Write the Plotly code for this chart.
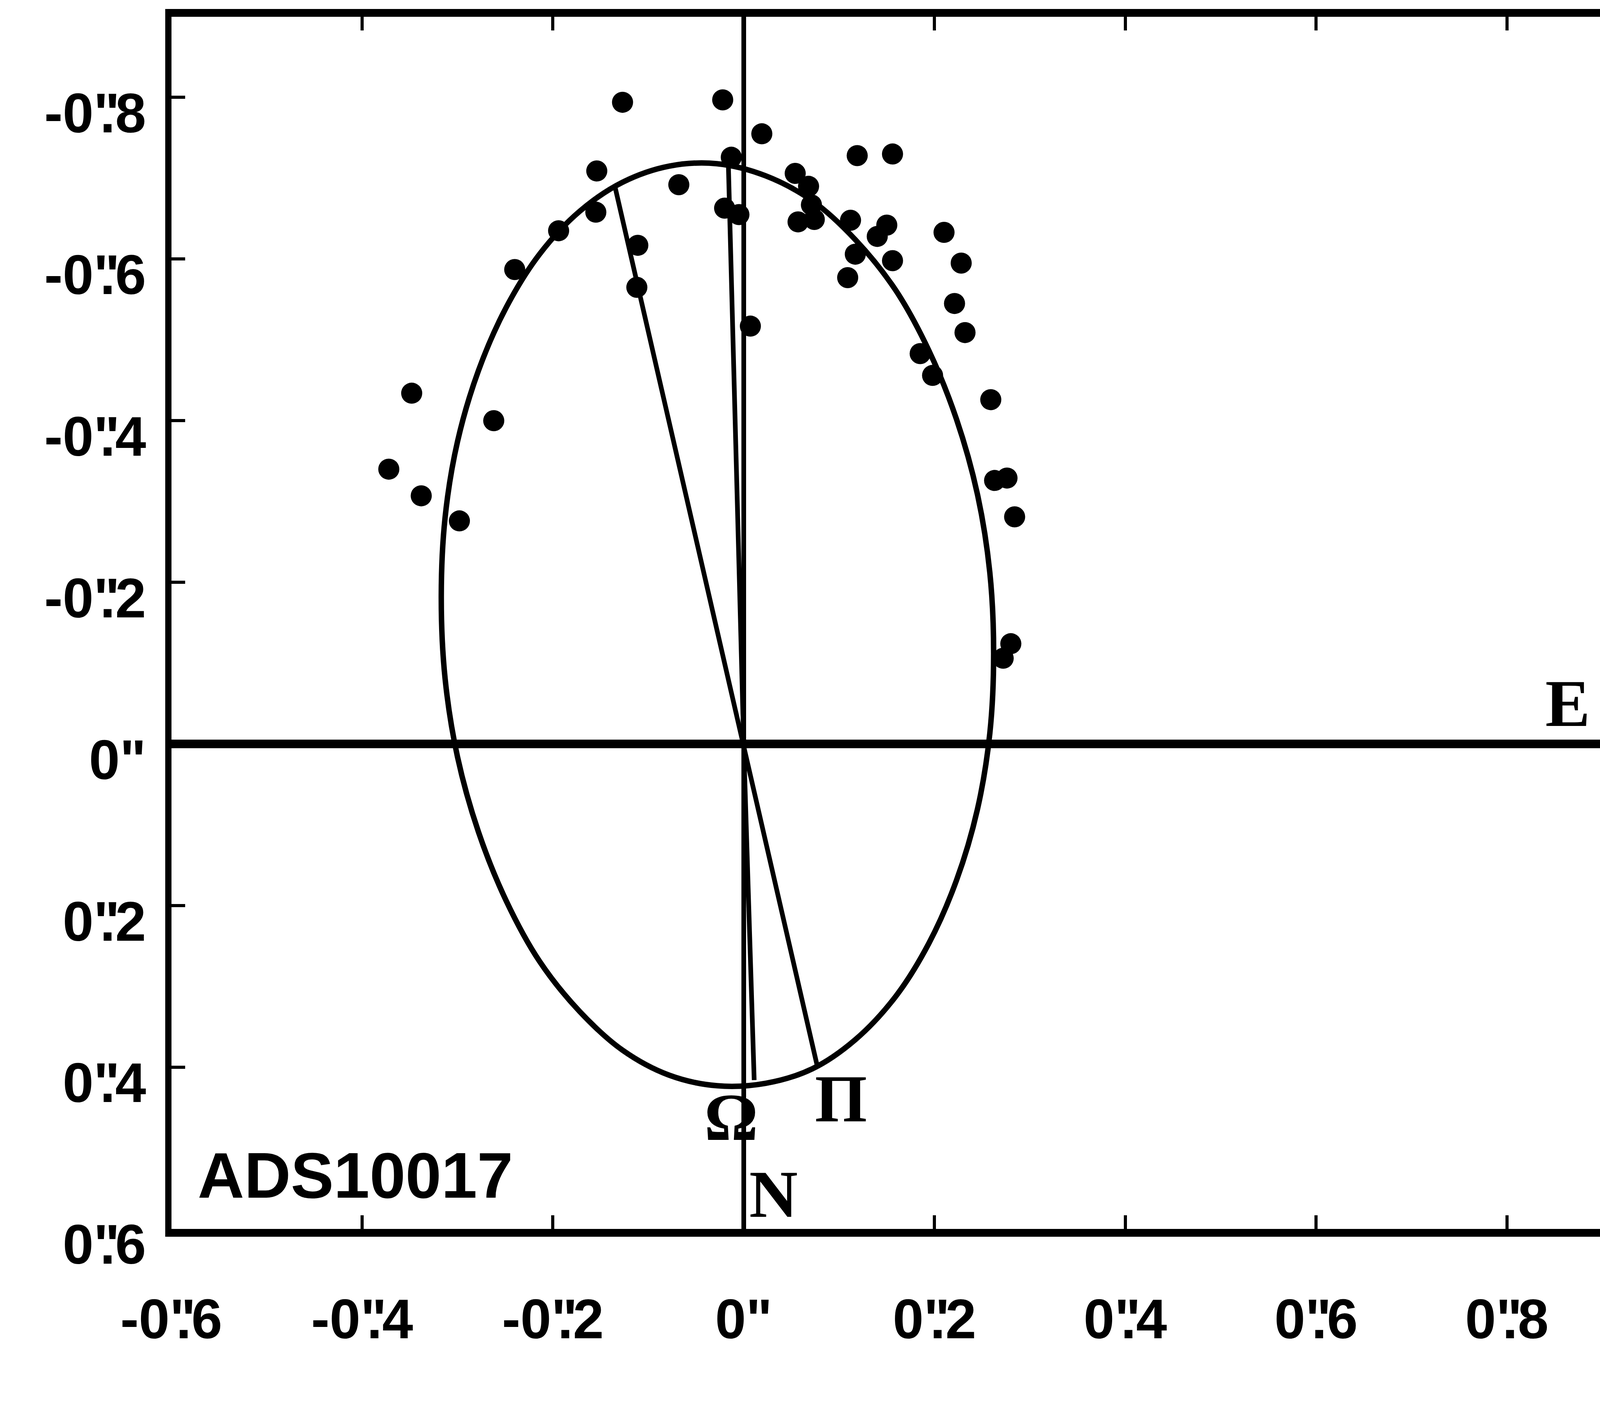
import plotly.graph_objects as go

# Observed positions (arcsec): x = East offset, y = North offset (N down)
obs_x = [-0.127, -0.022, 0.019, -0.154, -0.068, -0.013, -0.020, -0.005, -0.155, -0.111,
         -0.112, 0.007, -0.194, -0.240, -0.348, -0.262, -0.372, -0.338, -0.298,
         0.054, 0.068, 0.057, 0.074, 0.071, 0.119, 0.156, 0.112, 0.140, 0.150,
         0.117, 0.156, 0.109, 0.210, 0.228, 0.221, 0.232, 0.185, 0.198, 0.259,
         0.263, 0.276, 0.284, 0.280, 0.272]
obs_y = [-0.794, -0.797, -0.755, -0.709, -0.692, -0.726, -0.663, -0.655, -0.658, -0.617,
         -0.565, -0.517, -0.635, -0.587, -0.434, -0.400, -0.340, -0.307, -0.276,
         -0.706, -0.690, -0.646, -0.649, -0.667, -0.728, -0.730, -0.648, -0.628, -0.642,
         -0.606, -0.598, -0.577, -0.633, -0.595, -0.545, -0.509, -0.483, -0.456, -0.426,
         -0.326, -0.329, -0.281, -0.124, -0.106]

# Apparent orbit, points read (and smoothed) off the picture
orbit_x = [0.262, 0.258, 0.245, 0.223, 0.194, 0.159, 0.117, 0.072, 0.023, -0.028,
           -0.078, -0.127, -0.172, -0.214, -0.249, -0.278, -0.300, -0.313, -0.317,
           -0.313, -0.300, -0.278, -0.249, -0.214, -0.172, -0.127, -0.078, -0.028,
           0.023, 0.072, 0.117, 0.159, 0.194, 0.223, 0.245, 0.258]
orbit_y = [-0.112, -0.013, 0.081, 0.169, 0.247, 0.313, 0.366, 0.402, 0.420, 0.423,
           0.410, 0.379, 0.331, 0.269, 0.194, 0.109, 0.016, -0.081, -0.181,
           -0.280, -0.374, -0.462, -0.540, -0.606, -0.659, -0.695, -0.715, -0.718,
           -0.703, -0.672, -0.624, -0.562, -0.487, -0.402, -0.309, -0.212]

# Line of apsides (apoastron -> primary -> periastron) and line of nodes
apsides_x = [-0.135, 0.0, 0.077]
apsides_y = [-0.690, 0.0, 0.398]
nodes_x = [-0.016, 0.0, 0.011]
nodes_y = [-0.714, 0.0, 0.416]

x_tickvals = [-0.6, -0.4, -0.2, 0.0, 0.2, 0.4, 0.6, 0.8]
x_ticknums = ['-0', '-0', '-0', '0', '0', '0', '0', '0']
x_tickfrac = ['6', '4', '2', '', '2', '4', '6', '8']
y_tickvals = [-0.8, -0.6, -0.4, -0.2, 0.0, 0.2, 0.4, 0.6]
y_ticknums = ['-0', '-0', '-0', '-0', '0', '0', '0', '0']
y_tickfrac = ['8', '6', '4', '2', '', '2', '4', '6']


def arcsec_label(whole, frac):
    # 0″.8 style: the seconds sign sits above the decimal point
    if frac == '':
        return whole + '"'
    return whole + '<span style="letter-spacing:-0.36em">"</span>.' + frac


x_ticktext = [arcsec_label(a, b) for a, b in zip(x_ticknums, x_tickfrac)]
y_ticktext = [arcsec_label(a, b) for a, b in zip(y_ticknums, y_tickfrac)]

SANS = "Liberation Sans, Arial, sans-serif"
SERIF = "Liberation Serif, Times New Roman, serif"

fig = go.Figure()
fig.add_trace(go.Scatter(x=orbit_x + [orbit_x[0]], y=orbit_y + [orbit_y[0]], mode="lines",
                         line=dict(color="black", width=14, shape="spline", smoothing=1.0),
                         hoverinfo="skip"))
fig.add_trace(go.Scatter(x=apsides_x, y=apsides_y, mode="lines",
                         line=dict(color="black", width=12)))
fig.add_trace(go.Scatter(x=nodes_x, y=nodes_y, mode="lines",
                         line=dict(color="black", width=12)))
fig.add_trace(go.Scatter(x=obs_x, y=obs_y, mode="markers",
                         marker=dict(color="black", size=54, symbol="circle")))

labels = [("N", 0.031, 0.557), ("\u03a0", 0.102, 0.439), ("\u03a9", -0.013, 0.462)]
for txt, lx, ly in labels:
    fig.add_annotation(x=lx, y=ly, text=txt, showarrow=False, xanchor="center", yanchor="middle",
                       font=dict(family=SERIF, size=172, color="black", weight="bold"))
fig.add_annotation(x=0.888, y=-0.05, text="E", showarrow=False, xanchor="right", yanchor="middle",
                   font=dict(family=SERIF, size=172, color="black", weight="bold"))
fig.add_annotation(x=-0.573, y=0.534, text="ADS10017", showarrow=False, xanchor="left", yanchor="middle",
                   font=dict(family=SANS, size=165, color="black", weight="bold"))

# Plot area as fractions of the page (reference: left 409, top 44, bottom 348 of 5258x3603)
fig.update_layout(
    autosize=True,
    margin=dict(l=0, r=0, t=0, b=0),
    paper_bgcolor="white", plot_bgcolor="white",
    showlegend=False,
    xaxis=dict(domain=[409 / 5258, 1.0], automargin=True,
               range=[-0.6, 0.8976], tickvals=x_tickvals, ticktext=x_ticktext,
               ticks="inside", ticklen=35, tickwidth=8, tickcolor="black",
               showline=True, linecolor="black", linewidth=20, mirror="ticks",
               showgrid=False, zeroline=True, zerolinecolor="black", zerolinewidth=12,
               ticklabelstandoff=90,
               tickfont=dict(family=SANS, size=142, color="black", weight="bold")),
    yaxis=dict(domain=[348 / 3603, 1 - 44 / 3603], automargin=True,
               range=[0.6, -0.9], tickvals=y_tickvals, ticktext=y_ticktext,
               ticks="inside", ticklen=35, tickwidth=8, tickcolor="black",
               showline=True, linecolor="black", linewidth=16, mirror=False,
               showgrid=False, zeroline=True, zerolinecolor="black", zerolinewidth=22,
               ticklabelstandoff=20, ticklabelshift=-40,
               tickfont=dict(family=SANS, size=142, color="black", weight="bold")),
)

# Fill the browser window exactly (no page margin or scrollbars)
post_js = """
var gd = document.getElementById('{plot_id}');
document.documentElement.style.margin = '0';
document.body.style.margin = '0';
document.documentElement.style.overflow = 'hidden';
document.body.style.overflow = 'hidden';
Plotly.Plots.resize(gd);
"""

fig.write_html("out.html", default_width="100vw", default_height="100vh",
               config={"responsive": True, "displayModeBar": False}, post_script=post_js)
